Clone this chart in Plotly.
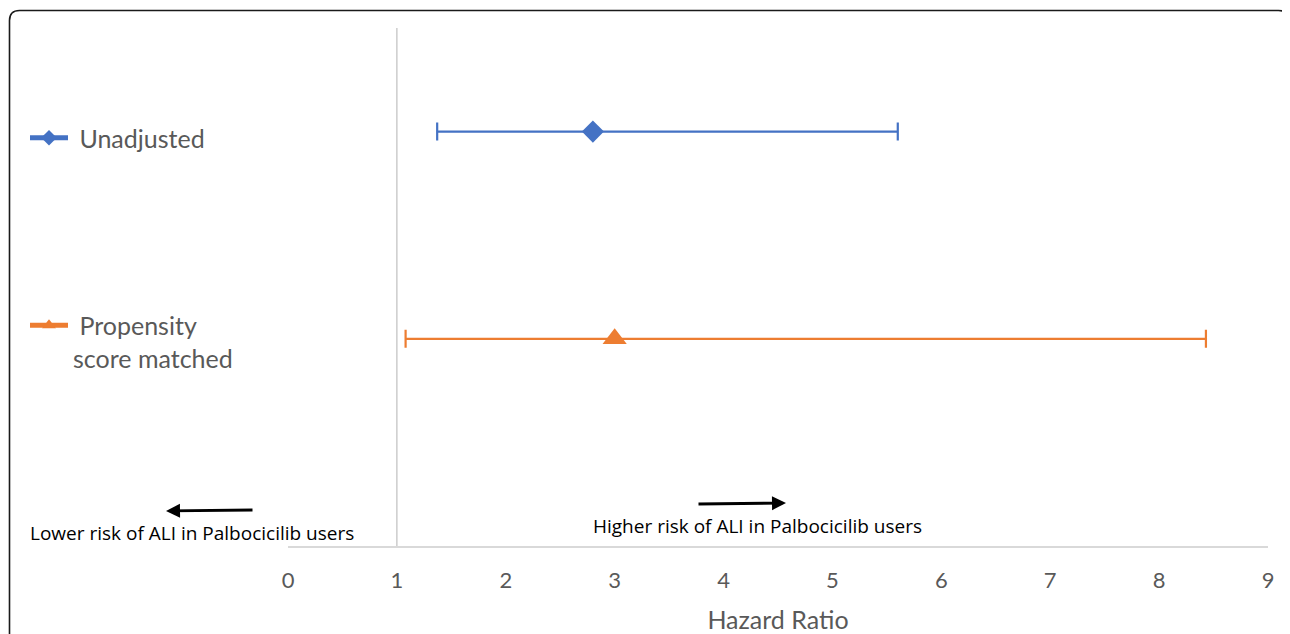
import plotly.graph_objects as go

# ---- data ----
categories = ["\u00a0Unadjusted", "\u00a0Propensity<br>score matched"]
hazard_ratio = [2.80, 3.00]
ci_lower = [1.37, 1.08]
ci_upper = [5.60, 8.43]
row_pos = [2, 1]
colors = ["#4472C4", "#ED7D31"]
symbols = ["diamond", "triangle-up"]
marker_sizes = [17, 21]
x_ticks = list(range(0, 10))

# the page puts the figure 8px in from the window corner
OFF = 8
W, H = 1290 - OFF, 634 - OFF
SL, SR, ST, SB = 288, 1268, 28, 546      # plot area in window pixels
PW, PH = SR - SL, SB - ST


def px(x):
    return (x - SL) / PW


def py(y):
    return (SB - y) / PH


FONT = "Lato"
NOTE_FONT = "Open Sans"
GREY = "#595959"

fig = go.Figure()
for i, name in enumerate(categories):
    fig.add_trace(go.Scatter(
        x=[hazard_ratio[i]], y=[row_pos[i]],
        mode="lines+markers", name=name, legendgroup=f"g{i}",
        line=dict(color=colors[i], width=1.8),
        marker=dict(color=colors[i], symbol=symbols[i], size=marker_sizes[i]),
        error_x=dict(type="data", symmetric=False,
                     array=[ci_upper[i] - hazard_ratio[i]],
                     arrayminus=[hazard_ratio[i] - ci_lower[i]],
                     color=colors[i], thickness=2.2, width=9),
        cliponaxis=False,
    ))

shapes = [
    # vertical reference line at HR = 1
    dict(type="line", xref="x", yref="y", x0=1, x1=1, y0=0, y1=2.5,
         line=dict(color="#BFBFBF", width=1.2), layer="below"),
]
# rounded outer border
x0, x1 = px(9.5), px(1288.5)
y0, y1 = py(10.5), py(700)
rx, ry = 10 / PW, 10 / PH
path = (f"M {x0},{y1} L {x0},{y0 - ry} Q {x0},{y0} {x0 + rx},{y0} "
        f"L {x1 - rx},{y0} Q {x1},{y0} {x1},{y0 - ry} L {x1},{y1}")
shapes.append(dict(type="path", xref="paper", yref="paper", path=path,
                   line=dict(color="#1a1a1a", width=1.6)))

annotations = [
    dict(xref="paper", yref="paper", x=px(192), y=py(533),
         text="Lower risk of ALI in Palbocicilib users", showarrow=False,
         font=dict(family=NOTE_FONT, size=19, color="#000000"),
         xanchor="center", yanchor="middle"),
    dict(xref="paper", yref="paper", x=px(757), y=py(526),
         text="Higher risk of ALI in Palbocicilib users", showarrow=False,
         font=dict(family=NOTE_FONT, size=19, color="#000000"),
         xanchor="center", yanchor="middle"),
    dict(xref="paper", yref="paper", x=px(166), y=py(511), ax=88, ay=-1,
         text="", showarrow=True, arrowhead=2, arrowsize=1, arrowwidth=2.8,
         arrowcolor="#000000"),
    dict(xref="paper", yref="paper", x=px(786), y=py(503), ax=-89, ay=1,
         text="", showarrow=True, arrowhead=2, arrowsize=1, arrowwidth=2.8,
         arrowcolor="#000000"),
]

fig.update_layout(
    width=W, height=H,
    margin=dict(l=SL - OFF, r=W - (SR - OFF), t=ST - OFF, b=H - (SB - OFF),
                autoexpand=False),
    paper_bgcolor="white", plot_bgcolor="white",
    font=dict(family=FONT, color=GREY),
    showlegend=True,
    legend=dict(x=px(25), y=py(115), xanchor="left", yanchor="top",
                font=dict(family=FONT, size=25, color=GREY),
                tracegroupgap=152, valign="top", itemsizing="constant",
                itemwidth=38, bgcolor="rgba(0,0,0,0)"),
    xaxis=dict(range=[0, 9], tickvals=x_ticks, showgrid=False, zeroline=False,
               showline=True, linecolor="#D9D9D9", linewidth=1.5,
               ticks="outside", ticklen=14, tickcolor="rgba(0,0,0,0)",
               tickfont=dict(family=FONT, size=22, color=GREY),
               title=dict(text="Hazard Ratio", standoff=24,
                          font=dict(family=FONT, size=25, color=GREY)),
               fixedrange=True),
    yaxis=dict(range=[0, 2.5], showgrid=False, zeroline=False, showline=False,
               showticklabels=False, fixedrange=True),
    shapes=shapes,
    annotations=annotations,
)

fig.write_html("out.html")
